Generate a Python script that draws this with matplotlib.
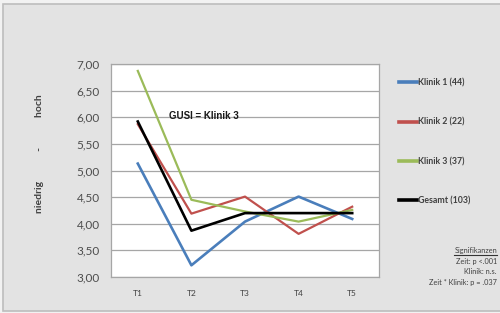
import matplotlib
matplotlib.use('Agg')
import matplotlib.pyplot as plt
from matplotlib.patches import Rectangle
from matplotlib.lines import Line2D
from matplotlib.ticker import FuncFormatter

# data
zeitpunkte = ['T1', 'T2', 'T3', 'T4', 'T5']
klinik1 = [5.13, 3.22, 4.04, 4.51, 4.09]
klinik2 = [5.87, 4.19, 4.51, 3.81, 4.32]
klinik3 = [6.87, 4.45, 4.23, 4.04, 4.26]
gesamt = [5.92, 3.87, 4.20, 4.20, 4.20]

serien = ['Klinik 1 (44)', 'Klinik 2 (22)', 'Klinik 3 (37)', 'Gesamt (103)']
farben = ['#4a7ebb', '#c0504d', '#9bbb59', '#000000']
breiten = [1.9, 1.6, 1.6, 1.9]

plt.rcParams['font.family'] = ['Lato', 'DejaVu Sans']

fig = plt.figure(figsize=(5, 3.13), dpi=100)
fig.patch.set_facecolor('#f2f2f2')
fig.add_artist(Rectangle((3 / 500, 2 / 313), 1.0, 1 - 6 / 313,
                         transform=fig.transFigure, facecolor='#e3e3e3',
                         edgecolor='#bdbdbd', linewidth=1.2, zorder=-5))

ax = fig.add_axes([111 / 500, 1 - 277 / 313, 268 / 500, 213 / 313])
ax.set_facecolor('white')

x = range(len(zeitpunkte))
for werte, name, c, lw in zip([klinik1, klinik2, klinik3, gesamt], serien, farben, breiten):
    ax.plot(x, werte, color=c, linewidth=lw, label=name, zorder=3)

ax.set_xlim(-0.5, len(zeitpunkte) - 0.5)
ax.set_ylim(3, 7)
ax.set_yticks([3 + 0.5 * i for i in range(9)])
ax.yaxis.set_major_formatter(FuncFormatter(lambda v, p: f'{v:.2f}'.replace('.', ',')))
ax.set_xticks(list(x))
ax.set_xticklabels(zeitpunkte, fontsize=6, color='#404040')
ax.tick_params(axis='y', labelsize=8.5, colors='#4d4d4d', length=0, pad=8)
ax.tick_params(axis='x', length=0, pad=9)
ax.grid(axis='y', color='#a6a6a6', linewidth=0.9)
for s in ax.spines.values():
    s.set_color('#a6a6a6')
    s.set_linewidth(0.9)

ax.text(0.58, 6.03, 'GUSI = Klinik 3', fontsize=7, fontweight='bold',
        family=['Liberation Sans'], color='#1a1a1a', va='center')

fig.text(40 / 500, 1 - 154 / 313, 'niedrig            -            hoch', rotation=90,
         ha='center', va='center', fontsize=7.5, fontweight='bold', color='#404040')

leg = fig.legend(loc='upper left', bbox_to_anchor=(395 / 500, 1 - 75 / 313),
                 frameon=False, fontsize=6.3, labelspacing=3.45, handlelength=2.1,
                 handletextpad=0.15, borderaxespad=0)
for t in leg.get_texts():
    t.set_color('#404040')
    t.set_fontweight('bold')
for h in leg.get_lines():
    h.set_linewidth(2.6)

sig = ['Signifikanzen', 'Zeit: p <.001', 'Klinik: n.s.', 'Zeit * Klinik: p = .037']
texte = []
for i, zeile in enumerate(sig):
    texte.append(fig.text(497 / 500, 1 - (251 + 10.5 * i) / 313, zeile, ha='right',
                          va='center', fontsize=5.3, color='#404040'))

# underline the heading
fig.canvas.draw()
bb = texte[0].get_window_extent().transformed(fig.transFigure.inverted())
fig.add_artist(Line2D([bb.x0, bb.x1], [bb.y0 - 0.001, bb.y0 - 0.001],
                      transform=fig.transFigure, color='#333333', linewidth=0.8))

fig.savefig('out.png', dpi=100, facecolor=fig.get_facecolor())
